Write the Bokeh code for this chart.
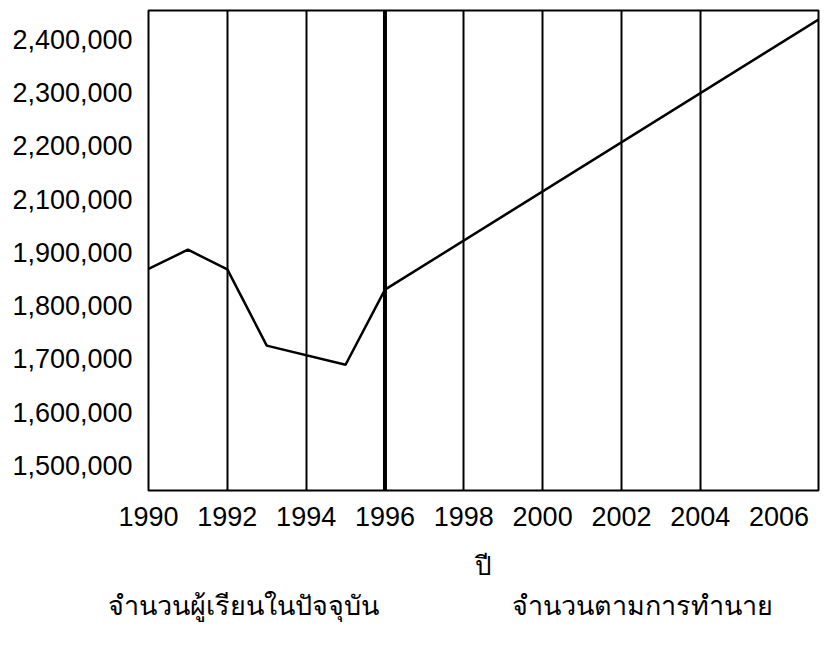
from bokeh.plotting import figure
from bokeh.models import FixedTicker, Span, Range1d, Title
from bokeh.embed import file_html
from bokeh.resources import INLINE

# ---- data (y values are in axis-position units; labels below) ----
years_actual = [1990, 1991, 1992, 1993, 1995, 1996]
students_actual = [1869000, 1905000, 1868000, 1725000, 1689000, 1830000]
forecast_years = [1996, 2007]
forecast_values = [1830000, 2337000]

x_tick_years = [1990, 1992, 1994, 1996, 1998, 2000, 2002, 2004, 2006]
x_grid_years = [1992, 1994, 1998, 2000, 2002, 2004]
y_tick_positions = [1500000, 1600000, 1700000, 1800000, 1900000,
                    2000000, 2100000, 2200000, 2300000]
y_tick_labels = ["1,500,000", "1,600,000", "1,700,000", "1,800,000", "1,900,000",
                 "2,100,000", "2,200,000", "2,300,000", "2,400,000"]

x_label = "ปี"
legend_labels = ["จำนวนผู้เรียนในปัจจุบัน", "จำนวนตามการทำนาย"]

p = figure(width=828, height=637, output_backend="svg", toolbar_location=None,
           x_range=Range1d(1990, 2007), y_range=Range1d(1453000, 2354000),
           min_border_left=148, min_border_right=10, min_border_top=10,
           min_border_bottom=147)

p.background_fill_color = "white"
p.border_fill_color = "white"
p.outline_line_color = "black"
p.outline_line_width = 2

r1 = p.line(years_actual, students_actual, line_color="black", line_width=2.5)
r2 = p.line(forecast_years, forecast_values, line_color="black", line_width=2.5)

p.add_layout(Span(location=forecast_years[0], dimension="height",
                  line_color="black", line_width=4))

# axes
p.xaxis.ticker = FixedTicker(ticks=x_tick_years)
p.yaxis.ticker = FixedTicker(ticks=y_tick_positions)
p.yaxis.major_label_overrides = {v: l for v, l in zip(y_tick_positions, y_tick_labels)}
for ax in (p.xaxis[0], p.yaxis[0]):
    ax.axis_line_color = None
    ax.major_tick_line_color = None
    ax.minor_tick_line_color = None
    ax.major_label_text_font = "Liberation Sans"
    ax.major_label_text_font_size = "27px"
    ax.major_label_text_color = "black"
p.yaxis.major_label_standoff = 10
p.xaxis.major_label_standoff = 10

p.xaxis.axis_label = x_label
p.xaxis.axis_label_text_font = "Noto Sans"
p.xaxis.axis_label_text_font_style = "normal"
p.xaxis.axis_label_text_font_size = "26px"
p.xaxis.axis_label_text_color = "black"
p.xaxis.axis_label_standoff = 18

p.xgrid.ticker = FixedTicker(ticks=x_grid_years)
p.xgrid.grid_line_color = "black"
p.xgrid.grid_line_width = 2
p.ygrid.grid_line_color = None

# legend-like caption under the axis (series names, no swatches as in the reference)
legend_text = legend_labels[0] + "\u00a0" * 19 + legend_labels[1]
p.add_layout(Title(text=legend_text, align="left", offset=-41, standoff=-4,
                   text_font="Noto Sans", text_font_size="27px",
                   text_font_style="normal", text_color="black"), "below")

open("out.html", "w").write(file_html(p, INLINE))
